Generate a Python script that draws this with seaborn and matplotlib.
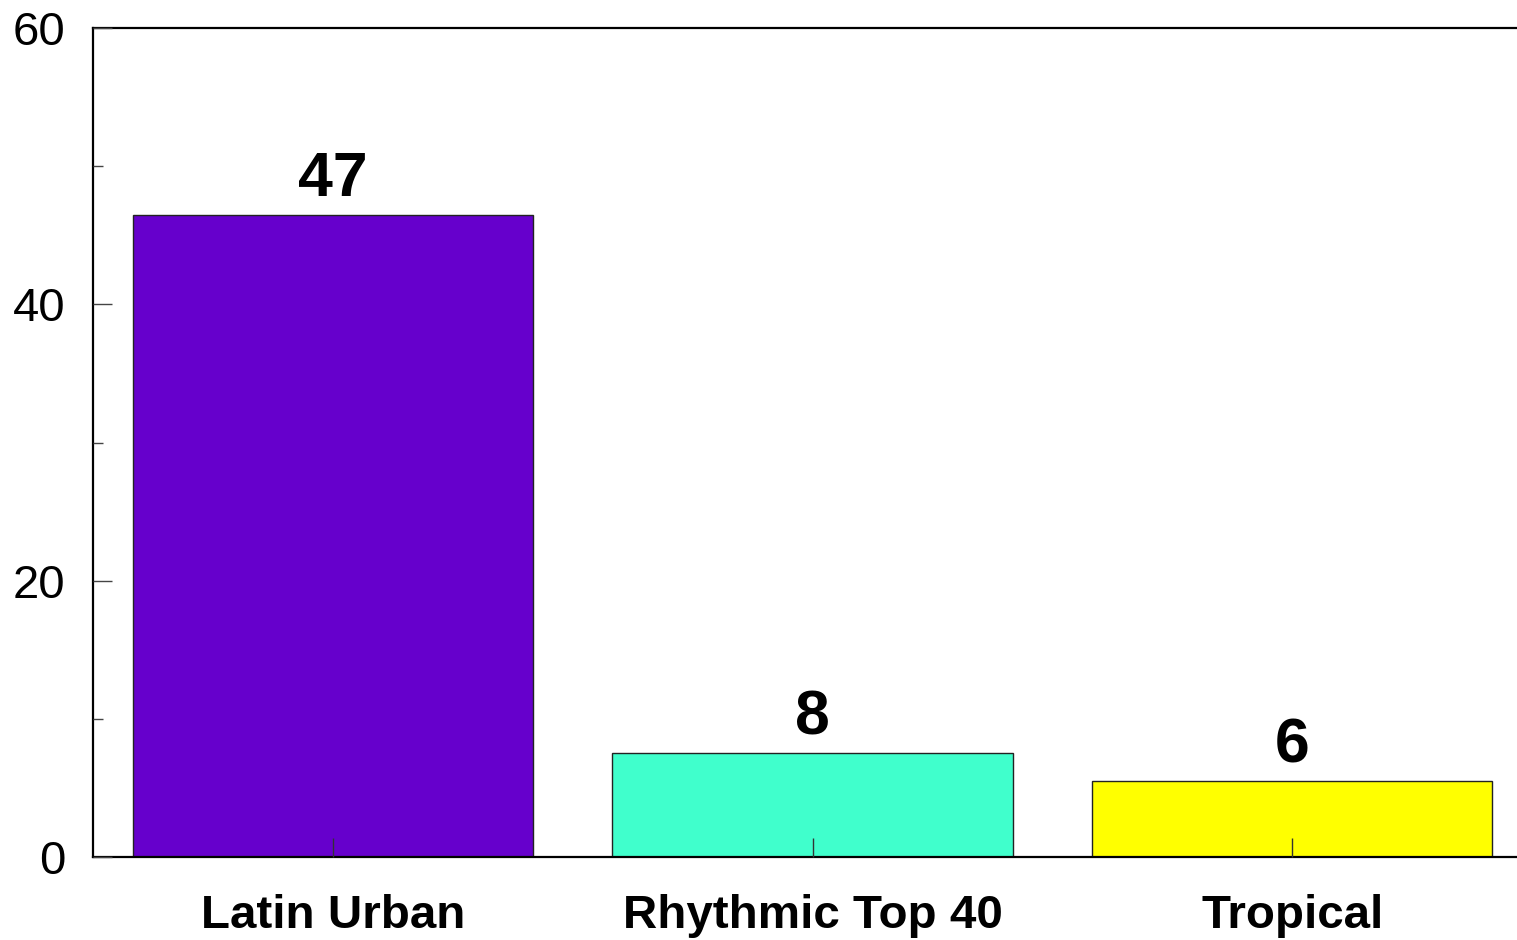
import matplotlib
matplotlib.use("Agg")
import matplotlib.pyplot as plt
import numpy as np
import pandas as pd
import seaborn as sns
from matplotlib.ticker import MultipleLocator

# data
formats = ["Latin Urban", "Rhythmic Top 40", "Tropical"]
heights = [46.5, 7.5, 5.5]
value_labels = ["47", "8", "6"]
colors = ["#6600CC", "#40FFCC", "#FFFF00"]

df = pd.DataFrame({"format": formats, "value": heights})

sns.set_style("ticks")
plt.rcParams["font.family"] = ["Liberation Sans", "DejaVu Sans"]
plt.rcParams["text.color"] = "black"
plt.rcParams["xtick.labelcolor"] = "black"
plt.rcParams["ytick.labelcolor"] = "black"

fig = plt.figure(figsize=(15.17, 9.40), dpi=100)
# axes run past the right edge of the figure, like the original
ax = fig.add_axes([93 / 1517, (940 - 857) / 940, (1532 - 93) / 1517, (857 - 28) / 940])

sns.barplot(data=df, x="format", y="value", hue="format", palette=colors,
            saturation=1, width=0.834, edgecolor="#222222", linewidth=1.0,
            legend=False, ax=ax)
ax.set_axisbelow(False)

ax.set_xlim(-0.5, 2.5)
ax.set_ylim(0, 60)
ax.yaxis.set_major_locator(MultipleLocator(20))
ax.yaxis.set_minor_locator(MultipleLocator(10))

for i, lab in enumerate(value_labels):
    ax.annotate(lab, (i, heights[i]), xytext=(0, 4), textcoords="offset points",
                ha="center", va="bottom", fontsize=45, fontweight="bold",
                color="black")

ax.set_xlabel("")
ax.set_ylabel("")
ax.tick_params(axis="y", which="major", direction="in", length=14, width=1.0,
               color="#444444", labelsize=34, pad=20)
ax.tick_params(axis="y", which="minor", direction="in", length=7, width=1.0,
               color="#444444")
ax.tick_params(axis="x", direction="in", length=14, width=1.0, color="#333333",
               labelsize=34.2, pad=27)
for t in ax.get_xticklabels():
    t.set_fontweight("bold")

for s in ["left", "bottom", "top"]:
    ax.spines[s].set_linewidth(1.6)
    ax.spines[s].set_color("black")
ax.spines["right"].set_visible(False)

fig.savefig("out.png", dpi=100)
